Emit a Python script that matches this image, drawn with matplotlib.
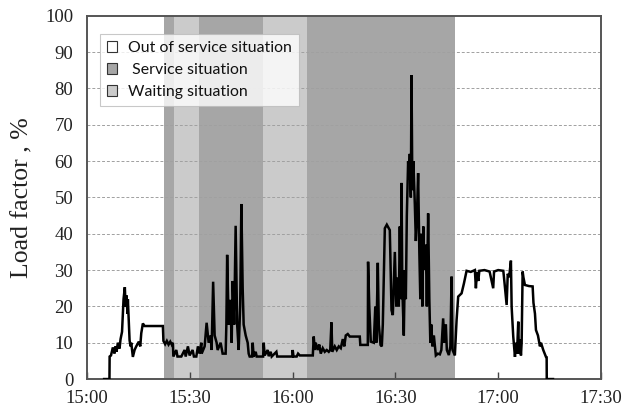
import matplotlib
matplotlib.use("Agg")
import matplotlib.pyplot as plt
from matplotlib.patches import Patch

# minutes after 15:00
t_min = [5.0, 6.55, 6.6, 7.0, 7.54, 8.03, 8.33, 8.62, 9.0, 9.49, 9.79, 10.22, 10.66, 11.04,
         11.25, 11.45, 11.83, 11.92, 12.42, 12.71, 12.91, 13.38, 13.88, 14.37, 15.13, 15.54,
         15.83, 16.3, 16.8, 22.14, 22.3, 22.8, 23.3, 23.8, 24.3, 24.8, 25.07, 25.2, 26.06,
         26.4, 27.52, 28.48, 28.8, 29.45, 29.94, 30.82, 31.2, 31.9, 32.37, 32.87, 33.36,
         33.45, 34.33, 34.91, 35.5, 36.08, 36.37, 36.81, 37.25, 37.83, 38.12, 39.0, 39.58,
         40.46, 40.67, 40.9, 41.34, 41.84, 42.22, 42.51, 42.95, 43.38, 43.82, 44.26, 44.7,
         45.05, 45.43, 45.72, 46.31, 46.89, 47.18, 47.47, 48.2, 48.35, 48.64, 49.23, 49.52,
         51.4, 51.56, 51.85, 52.73, 53.02, 53.61, 53.9, 55.27, 55.5, 59.9, 60.03, 60.27,
         61.2, 61.6, 62.1, 62.96, 65.9, 66.17, 66.46, 66.75, 67.34, 67.78, 68.22, 68.8,
         69.39, 69.97, 70.56, 70.99, 71.34, 71.58, 72.31, 72.89, 73.48, 74.06, 74.65, 75.08,
         75.52, 76.1, 76.69, 79.61, 79.76, 81.95, 82.03, 82.38, 82.82, 83.7, 84.14, 84.43,
         84.87, 85.16, 85.66, 86.04, 86.33, 86.92, 87.5, 88.37, 88.87, 89.25, 89.84, 90.27,
         90.71, 91.0, 91.29, 91.58, 91.79, 92.02, 92.46, 92.75, 93.05, 93.34, 93.72, 93.92,
         94.21, 94.51, 94.71, 94.95, 95.24, 95.68, 95.97, 96.26, 96.64, 96.99, 97.28, 97.58,
         97.87, 98.16, 98.45, 98.89, 99.18, 99.56, 99.91, 100.2, 100.5, 100.79, 101.23,
         101.81, 102.4, 102.98, 103.42, 103.94, 104.29, 104.73, 105.02, 105.6, 106.05,
         106.4, 106.69, 107.36, 107.86, 108.33, 109.32, 110.0, 110.78, 112.0, 113.2, 113.5,
         113.8, 114.2, 114.5, 116.0, 117.5, 118.55, 118.8, 120.0, 121.5, 121.8, 122.47,
         122.8, 123.2, 123.72, 123.93, 124.4, 124.9, 125.2, 125.5, 125.86, 126.06, 126.35,
         126.65, 126.85, 127.14, 127.37, 127.81, 129.0, 130.06, 130.3, 130.74, 131.03,
         131.61, 132.19, 132.49, 133.16, 133.95, 134.15, 134.18, 136.0]
load = [0, 0, 6.2, 6.5, 8.7, 7.0, 9.0, 7.5, 10.0, 8.4, 11.0, 13.0, 22.0, 25.3,
        20.0, 23.1, 18.0, 22.0, 10.7, 9.0, 10.0, 6.1, 8.0, 9.0, 10.3, 9.0,
        12.6, 15.3, 14.6, 14.6, 10.5, 9.6, 10.5, 9.5, 10.3, 9.4, 10.0, 6.2, 8.0,
        6.2, 6.2, 8.0, 6.2, 9.0, 6.5, 8.0, 6.2, 6.2, 9.0, 7.0, 10.0,
        7.0, 9.0, 15.5, 10.0, 12.0, 8.0, 26.8, 12.0, 10.0, 8.0, 10.0, 7.0,
        7.0, 15.0, 34.2, 15.0, 21.8, 10.0, 27.0, 15.0, 42.2, 15.0, 8.0, 20.0,
        48.2, 25.0, 15.0, 12.0, 10.0, 7.0, 6.2, 6.2, 10.0, 6.2, 7.5, 6.2,
        6.2, 10.0, 6.5, 8.0, 6.3, 7.5, 6.2, 7.5, 6.2, 6.2, 8.0, 6.2,
        6.2, 7.0, 6.5, 6.5, 6.5, 11.7, 8.0, 10.0, 8.0, 9.5, 7.0, 8.5,
        7.5, 8.0, 7.5, 8.0, 15.6, 7.5, 9.0, 8.0, 9.0, 8.5, 11.0, 9.0,
        12.0, 12.4, 11.7, 11.7, 9.4, 9.4, 32.3, 20.0, 10.3, 10.0, 20.0, 10.0,
        32.0, 15.0, 9.4, 9.0, 15.0, 41.5, 42.5, 41.0, 19.0, 17.6, 35.0, 20.0,
        28.0, 20.0, 42.0, 22.0, 54.0, 25.0, 12.0, 30.0, 22.0, 45.0, 60.0, 55.0,
        62.0, 50.0, 83.7, 52.0, 60.0, 48.0, 38.0, 44.0, 56.7, 35.0, 22.0, 40.0,
        20.0, 42.0, 30.0, 37.0, 20.0, 45.6, 22.0, 10.0, 15.0, 9.0, 12.0,
        6.5, 7.0, 6.8, 8.0, 16.7, 10.0, 15.0, 8.0, 6.6, 9.0,
        28.2, 8.0, 6.5, 16.2, 22.7, 23.6, 26.3, 29.8, 29.5, 30.0, 25.0,
        29.5, 27.0, 29.8, 30.0, 29.6, 25.0, 29.6, 30.0, 29.8, 27.0, 20.4,
        29.0, 28.0, 32.6, 19.9, 11.7, 6.1, 10.0, 7.0, 15.8, 7.0, 11.0,
        6.5, 10.0, 29.6, 28.0, 25.9, 25.6, 25.5, 21.0, 18.0, 13.5,
        12.0, 9.0, 10.0, 8.0, 6.1, 6.0, 0, 0]

# situation periods (minutes after 15:00)
period_start = [22.4, 25.3, 32.6, 51.3, 64.1]
period_end = [25.3, 32.6, 51.3, 64.1, 107.4]
period_kind = ["service", "waiting", "service", "waiting", "service"]

x_ticks = [0, 30, 60, 90, 120, 150]
x_tick_labels = ["15:00", "15:30", "16:00", "16:30", "17:00", "17:30"]
y_ticks = [0, 10, 20, 30, 40, 50, 60, 70, 80, 90, 100]

legend_labels = ["Out of service situation", " Service situation", "Waiting situation"]

colors = {"service": "#a6a6a6", "waiting": "#cbcbcb", "out": "#ffffff"}

fig = plt.figure(figsize=(6.26, 4.17), dpi=100)
ax = fig.add_axes([0.139, 0.091, 0.821, 0.871])

for s, e, k in zip(period_start, period_end, period_kind):
    ax.axvspan(s, e, color=colors[k], lw=0, zorder=0)

for yv in y_ticks[1:-1]:
    ax.axhline(yv, color="#a0a0a0", lw=0.7, ls=(0, (3, 2)), zorder=1)

ax.plot(t_min, load, color="black", lw=1.8, zorder=3, solid_joinstyle="miter")

ax.set_xlim(0, 150)
ax.set_ylim(0, 100)
ax.set_xticks(x_ticks)
ax.set_xticklabels(x_tick_labels)
ax.set_yticks(y_ticks)
serif = "Liberation Serif"
for lab in ax.get_xticklabels() + ax.get_yticklabels():
    lab.set_fontfamily(serif)
    lab.set_fontsize(13.5)
    lab.set_color("#222222")
ax.tick_params(axis="x", direction="in", length=5, width=1, color="#444444", pad=8)
ax.tick_params(axis="y", length=0, pad=10)
for sp in ax.spines.values():
    sp.set_color("#555555")
    sp.set_linewidth(1.4)
ax.set_ylabel("Load factor , %", fontfamily=serif, fontsize=18.5, color="#222222", labelpad=8)

handles = [Patch(facecolor=colors["out"], edgecolor="#333333", lw=0.8),
           Patch(facecolor=colors["service"], edgecolor="#333333", lw=0.8),
           Patch(facecolor=colors["waiting"], edgecolor="#333333", lw=0.8)]
leg = ax.legend(handles, legend_labels, loc="upper left", bbox_to_anchor=(0.025, 0.95),
                prop={"family": "Lato", "size": 11.4}, frameon=True, fancybox=False,
                handlelength=0.65, handleheight=0.65, handletextpad=0.65, labelspacing=0.5,
                borderpad=0.45, borderaxespad=0)
for txt in leg.get_texts():
    txt.set_color("#111111")
leg.get_frame().set_edgecolor("#bbbbbb")
leg.get_frame().set_linewidth(0.8)
leg.set_zorder(5)

fig.savefig("out.png", dpi=100)
